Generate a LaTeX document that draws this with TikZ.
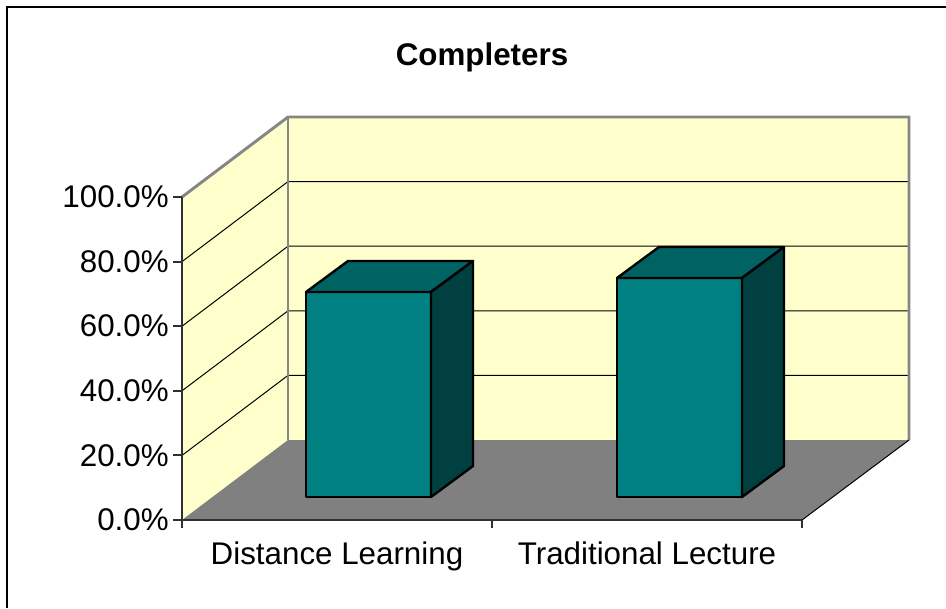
\documentclass[tikz,border=0pt]{standalone}
\usepackage{fontspec}
\setmainfont{Liberation Sans}
\definecolor{wallyellow}{HTML}{FFFFCC}
\definecolor{floorgray}{HTML}{808080}
\definecolor{edgegray}{HTML}{868686}
\definecolor{axisgray}{HTML}{303030}
\definecolor{barfront}{HTML}{008080}
\definecolor{bartop}{HTML}{006363}
\definecolor{barside}{HTML}{004040}

\begin{document}
\begin{tikzpicture}[x=0.75pt,y=-0.75pt,
    wall edge/.style={draw=edgegray,line width=2.2pt},
    grid line/.style={draw=black,line width=0.75pt},
    axis line/.style={draw=axisgray,line width=1.4pt},
    bar edge/.style={draw=black,line width=1.8pt,line join=round},
    axis label/.style={font=\fontsize{23.5}{28}\selectfont,inner sep=0pt},
    title label/.style={font=\bfseries\fontsize{23.5}{28}\selectfont,inner sep=0pt}]
    \useasboundingbox (0,0) rectangle (946,608);

    % frame
    \draw[line width=1pt] (7,608) -- (7,7) -- (946,7);

    % walls and floor
    \fill[wallyellow] (182,520) -- (182,197) -- (288,117) -- (288,440) -- cycle;
    \fill[wallyellow] (288,117) rectangle (909,440);
    \fill[floorgray] (182,520) -- (288,440) -- (909,440) -- (802,520) -- cycle;

    % gridlines
    \foreach \v in {1,...,4} {
        \draw[grid line] (182,520-64.6*\v) -- (288,440-64.6*\v) -- (909,440-64.6*\v);
    }
    \draw[wall edge] (182,197) -- (288,117) -- (909,117) -- (909,440);
    \draw[wall edge] (288,117) -- (288,440);
    \draw[grid line] (802,520) -- (909,440);

    % axes
    \draw[axis line] (182,197) -- (182,520) -- (802,520);
    \foreach \v in {0,...,5}
        \draw[axis line] (173,520-64.6*\v) -- (182,520-64.6*\v);
    \foreach \x in {182,492,802}
        \draw[axis line] (\x,520) -- (\x,528);

    % bars
    \foreach \bx/\by in {306/292,617/278} {
        \filldraw[bar edge,fill=barfront] (\bx,\by) rectangle (\bx+125,497);
        \filldraw[bar edge,fill=bartop] (\bx,\by) -- (\bx+42,\by-31) -- (\bx+167,\by-31) -- (\bx+125,\by) -- cycle;
        \filldraw[bar edge,fill=barside] (\bx+125,\by) -- (\bx+167,\by-31) -- (\bx+167,466) -- (\bx+125,497) -- cycle;
    }

    % labels
    \node[title label,anchor=base] (title) at (482,65) {Completers};
    \foreach \v/\lab in {0/0.0\%,1/20.0\%,2/40.0\%,3/60.0\%,4/80.0\%,5/100.0\%}
        \node[axis label,anchor=east] (tick\v) at (169,520-64.6*\v) {\lab};
    \node[axis label,anchor=base] (distance) at (337,564) {Distance Learning};
    \node[axis label,anchor=base] (traditional) at (647,564) {Traditional Lecture};
\end{tikzpicture}
\end{document}
